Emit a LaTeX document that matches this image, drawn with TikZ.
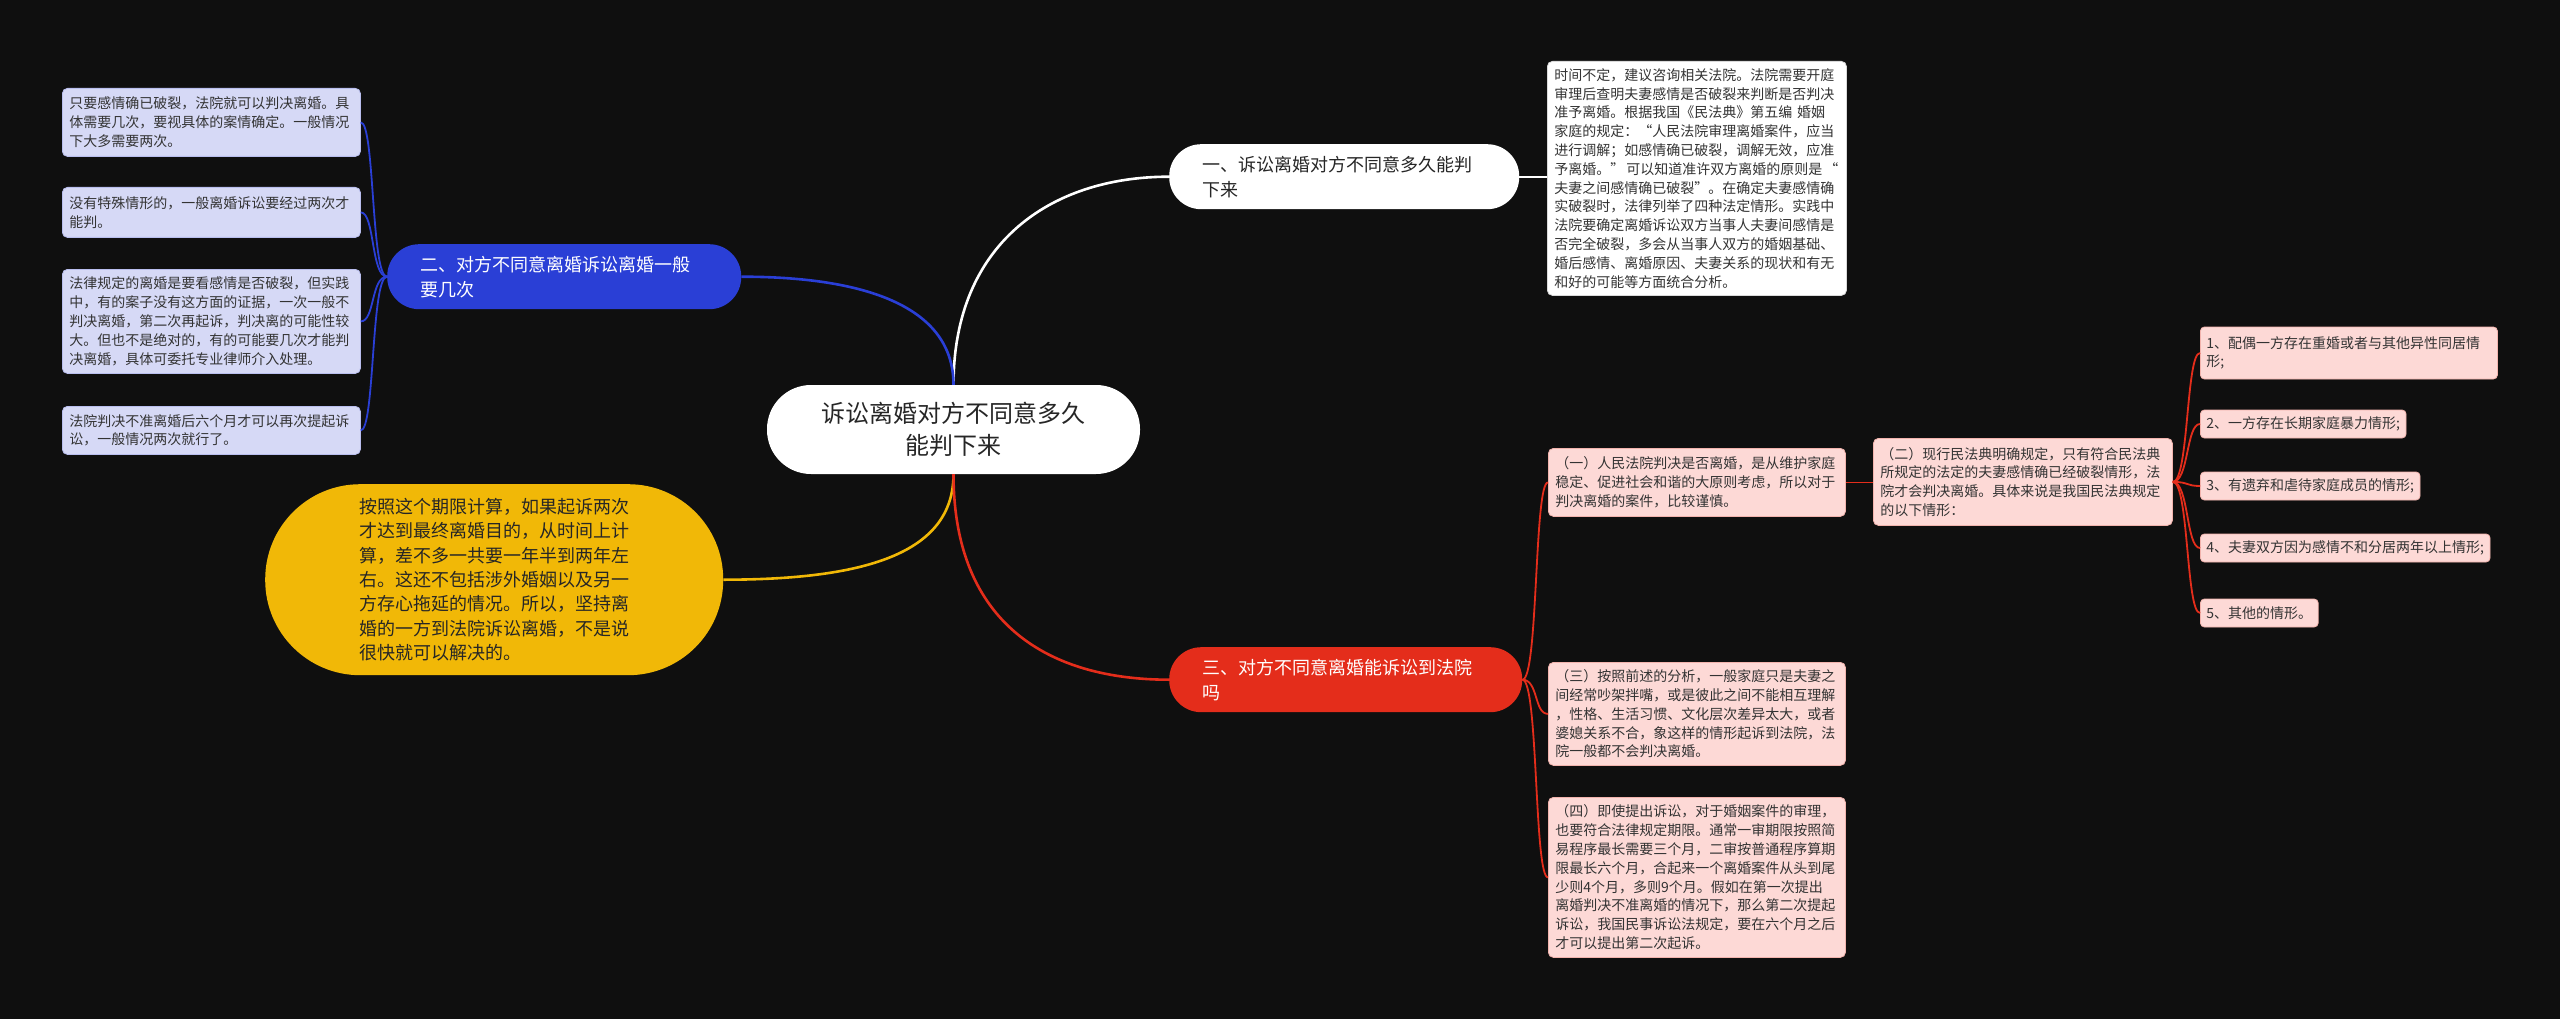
\documentclass[tikz,border=0pt]{standalone}
\usepackage{fontspec}
\setmainfont{Noto Sans CJK SC}
\definecolor{bg}{HTML}{0F0F0F}
\definecolor{lav}{HTML}{D6D9F6}
\definecolor{lavb}{HTML}{B9BEEE}
\definecolor{pinkf}{HTML}{FDD9D6}
\definecolor{pinkb}{HTML}{F2B3AD}
\definecolor{blueN}{HTML}{2A3FD6}
\definecolor{redN}{HTML}{E42D1B}
\definecolor{yelN}{HTML}{F1B807}
\definecolor{txt}{HTML}{333333}
\tikzset{
  pill/.style={rectangle, inner ysep=0pt, align=left, anchor=north west, font=\fontsize{18}{25}\selectfont},
  smallbox/.style={rectangle, rounded corners=5pt, inner xsep=7pt, inner ysep=0pt, anchor=north west, align=left, text=txt, font=\fontsize{14}{18.8}\selectfont},
  lavbox/.style={smallbox, fill=lav, draw=lavb, line width=0.8pt},
  pinkbox/.style={smallbox, fill=pinkf, draw=pinkb, line width=0.8pt},
  whitebox/.style={smallbox, fill=white, draw=white!85!black, line width=0.8pt},
  itembox/.style={rectangle, rounded corners=4pt, inner xsep=6pt, inner ysep=0pt, anchor=west, minimum height=28pt, fill=pinkf, draw=pinkb, line width=0.8pt, text=txt, font=\fontsize{14}{18.8}\selectfont, align=left},
  mainline/.style={line width=2.6pt},
  subline/.style={line width=1.8pt}
}
\begin{document}
\begin{tikzpicture}[x=1pt,y=-1pt]
\path[fill=bg] (0,0) rectangle (2560,1019);
\useasboundingbox (0,0) rectangle (2560,1019);

% central
\node[rectangle, fill=white, rounded corners=44pt, minimum width=373pt, minimum height=89pt, align=center, text=black!85, font=\fontsize{24}{32.5}\selectfont] (c) at (953.5,429.5) {诉讼离婚对方不同意多久\\能判下来};

% branch 1
\node[pill, fill=white, rounded corners=32pt, inner xsep=33pt, text width=284pt, minimum height=65pt, text=black!85] (b1) at (1169,144) {一、诉讼离婚对方不同意多久能判\\下来};
\node[whitebox, text width=285pt, minimum height=234pt] (d1) at (1547,61) {时间不定，建议咨询相关法院。法院需要开庭\\审理后查明夫妻感情是否破裂来判断是否判决\\准予离婚。根据我国《民法典》第五编 婚姻\\家庭的规定：“人民法院审理离婚案件，应当\\进行调解；如感情确已破裂，调解无效，应准\\\mbox{予离婚。”\hspace{2pt}可以知道准许双方离婚的原则是\hspace{2pt}“}\\夫妻之间感情确已破裂”。在确定夫妻感情确\\实破裂时，法律列举了四种法定情形。实践中\\法院要确定离婚诉讼双方当事人夫妻间感情是\\否完全破裂，多会从当事人双方的婚姻基础、\\婚后感情、离婚原因、夫妻关系的现状和有无\\和好的可能等方面统合分析。};

% branch 2
\node[pill, fill=blueN, rounded corners=32pt, inner xsep=33pt, text width=288pt, minimum height=65pt, text=white] (b2) at (387,244) {二、对方不同意离婚诉讼离婚一般\\要几次};
\node[lavbox, text width=284pt, minimum height=68pt] (l1) at (62,88) {只要感情确已破裂，法院就可以判决离婚。具\\体需要几次，要视具体的案情确定。一般情况\\下大多需要两次。};
\node[lavbox, text width=284pt, minimum height=50pt] (l2) at (62,187) {没有特殊情形的，一般离婚诉讼要经过两次才\\能判。};
\node[lavbox, text width=284pt, minimum height=104pt] (l3) at (62,269) {法律规定的离婚是要看感情是否破裂，但实践\\中，有的案子没有这方面的证据，一次一般不\\判决离婚，第二次再起诉，判决离的可能性较\\大。但也不是绝对的，有的可能要几次才能判\\决离婚，具体可委托专业律师介入处理。};
\node[lavbox, text width=284pt, minimum height=48pt] (l4) at (62,406) {法院判决不准离婚后六个月才可以再次提起诉\\讼，一般情况两次就行了。};

% yellow
\node[pill, fill=yelN, rounded corners=95pt, inner xsep=94pt, text width=270pt, minimum height=191pt, text=black!85, font=\fontsize{18}{24.4}\selectfont] (y) at (265,484) {按照这个期限计算，如果起诉两次\\才达到最终离婚目的，从时间上计\\算，差不多一共要一年半到两年左\\右。这还不包括涉外婚姻以及另一\\方存心拖延的情况。所以，坚持离\\婚的一方到法院诉讼离婚，不是说\\很快就可以解决的。};

% branch 3
\node[pill, fill=redN, rounded corners=32pt, inner xsep=33pt, text width=287pt, minimum height=65pt, text=white] (b3) at (1169,647) {三、对方不同意离婚能诉讼到法院\\吗};
\node[pinkbox, text width=283pt, minimum height=68pt] (p1) at (1548,448) {（一）人民法院判决是否离婚，是从维护家庭\\稳定、促进社会和谐的大原则考虑，所以对于\\判决离婚的案件，比较谨慎。};
\node[pinkbox, text width=285pt, minimum height=87pt] (p2) at (1873,438) {（二）现行民法典明确规定，只有符合民法典\\所规定的法定的夫妻感情确已经破裂情形，法\\院才会判决离婚。具体来说是我国民法典规定\\的以下情形：};
\node[pinkbox, text width=283pt, minimum height=103pt] (p3) at (1548,662) {（三）按照前述的分析，一般家庭只是夫妻之\\间经常吵架拌嘴，或是彼此之间不能相互理解\\，性格、生活习惯、文化层次差异太大，或者\\婆媳关系不合，象这样的情形起诉到法院，法\\院一般都不会判决离婚。};
\node[pinkbox, text width=283pt, minimum height=160pt] (p4) at (1548,797) {（四）即使提出诉讼，对于婚姻案件的审理，\\也要符合法律规定期限。通常一审期限按照简\\易程序最长需要三个月，二审按普通程序算期\\限最长六个月，合起来一个离婚案件从头到尾\\少则4个月，多则9个月。假如在第一次提出\\离婚判决不准离婚的情况下，那么第二次提起\\诉讼，我国民事诉讼法规定，要在六个月之后\\才可以提出第二次起诉。};

\node[itembox, minimum height=52pt, text width=285pt] (i1) at (2200,353) {1、配偶一方存在重婚或者与其他异性同居情\\形;};
\node[itembox] (i2) at (2200,424) {2、一方存在长期家庭暴力情形;};
\node[itembox] (i3) at (2200,486) {3、有遗弃和虐待家庭成员的情形;};
\node[itembox] (i4) at (2200,548) {4、夫妻双方因为感情不和分居两年以上情形;};
\node[itembox] (i5) at (2200,613) {5、其他的情形。};

% main connectors
\draw[mainline, white] (c.north) .. controls +(0,-140) and +(-120,0) .. (b1.west);
\draw[mainline, blueN] (c.north) .. controls +(0,-80) and +(120,0) .. (b2.east);
\draw[mainline, yelN] (c.south) .. controls +(0,80) and +(140,0) .. (y.east);
\draw[mainline, redN] (c.south) .. controls +(0,150) and +(-120,0) .. (b3.west);

% sub connectors
\draw[subline, white] (b1.east) -- (d1.west |- b1.east);
\foreach \n in {l1,l2,l3,l4}
  \draw[subline, blueN] (b2.west) .. controls +(-16,0) and +(14,0) .. (\n.east);
\foreach \n in {p1,p3,p4}
  \draw[subline, redN] (b3.east) .. controls +(16,0) and +(-14,0) .. (\n.west);
\draw[subline, redN] (p1.east) -- (p2.west |- p1.east);
\foreach \n in {i1,i2,i3,i4,i5}
  \draw[subline, redN] (p2.east) .. controls +(16,0) and +(-14,0) .. (\n.west);
\end{tikzpicture}
\end{document}
